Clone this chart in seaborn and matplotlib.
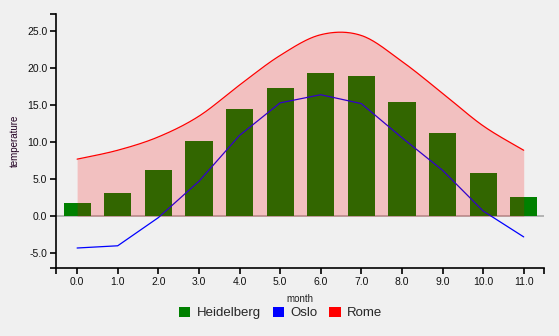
import numpy as np
import pandas as pd
import matplotlib
matplotlib.use("Agg")
import matplotlib.pyplot as plt
import seaborn as sns
from matplotlib.patches import Patch

months = [0, 1, 2, 3, 4, 5, 6, 7, 8, 9, 10, 11]
heidelberg = [1.8, 3.1, 6.2, 10.1, 14.5, 17.3, 19.3, 18.9, 15.4, 11.2, 5.8, 2.6]
oslo = [-4.3, -4.0, -0.2, 4.7, 10.9, 15.3, 16.4, 15.2, 10.6, 6.2, 0.7, -2.8]
rome = [7.7, 8.9, 10.7, 13.5, 17.7, 21.7, 24.5, 24.4, 20.9, 16.6, 12.2, 8.9]
y_ticks = [-5, 0, 5, 10, 15, 20, 25]
series_names = ["Heidelberg", "Oslo", "Rome"]
series_colors = ["#008000", "#0000ff", "#ff0000"]

df = pd.DataFrame({"month": months, "Heidelberg": heidelberg, "Oslo": oslo, "Rome": rome})


def cardinal_curve(x, y, n=30):
    # Catmull-Rom style cardinal spline (tension 0), endpoints duplicated
    x = np.asarray(x, float)
    y = np.asarray(y, float)
    px = np.concatenate([[x[0]], x, [x[-1]]])
    py = np.concatenate([[y[0]], y, [y[-1]]])
    xs, ys = [], []
    for k in range(1, len(px) - 2):
        t = np.linspace(0, 1, n, endpoint=(k == len(px) - 3))
        mx0 = (px[k + 1] - px[k - 1]) / 2
        mx1 = (px[k + 2] - px[k]) / 2
        my0 = (py[k + 1] - py[k - 1]) / 2
        my1 = (py[k + 2] - py[k]) / 2
        h00 = 2 * t**3 - 3 * t**2 + 1
        h10 = t**3 - 2 * t**2 + t
        h01 = -2 * t**3 + 3 * t**2
        h11 = t**3 - t**2
        xs.append(h00 * px[k] + h10 * mx0 + h01 * px[k + 1] + h11 * mx1)
        ys.append(h00 * py[k] + h10 * my0 + h01 * py[k + 1] + h11 * my1)
    return np.concatenate(xs), np.concatenate(ys)


sns.set_style("white")
plt.rcParams["font.family"] = ["Liberation Sans", "DejaVu Sans"]

bg = "#f0f0f0"
fig = plt.figure(figsize=(5.59, 3.36), dpi=100, facecolor=bg)
ax = fig.add_axes([56 / 559, 1 - 268 / 336, (544 - 56) / 559, (268 - 14) / 336])
ax.set_facecolor(bg)

ax.axhline(0, color="#aaaaaa", lw=1.2, zorder=1)

sns.barplot(data=df, x="month", y="Heidelberg", native_scale=True, width=0.67,
            color=series_colors[0], saturation=1, linewidth=0, edgecolor="none",
            ax=ax, zorder=2)
sns.lineplot(data=df, x="month", y="Oslo", color=series_colors[1], lw=0.9, ax=ax, zorder=3)

cx, cy = cardinal_curve(months, rome)
ax.fill_between(cx, 0, cy, color=series_colors[2], alpha=0.2, lw=0, zorder=4)
ax.plot(cx, cy, color=series_colors[2], lw=0.9, zorder=5)

xlim = (-0.52, 11.5)
ylim = (-7.0, 27.3)
ax.set_xlim(*xlim)
ax.set_ylim(*ylim)

ax.set_xticks(months)
ax.set_xticklabels([f"{m:.1f}" for m in months])
ax.set_yticks(y_ticks)
ax.set_yticklabels([f"{v:.1f}" for v in y_ticks])
ax.set_xticks(list(xlim), minor=True)
ax.set_yticks(list(ylim), minor=True)

for sp in ["top", "right"]:
    ax.spines[sp].set_visible(False)
for sp in ["left", "bottom"]:
    ax.spines[sp].set_color("black")
    ax.spines[sp].set_linewidth(1.2)

ax.tick_params(axis="both", which="both", bottom=True, left=True, direction="out",
               length=4.3, width=1.2, color="black", labelsize=7.5,
               labelcolor="#111111", pad=2)
ax.tick_params(axis="both", which="minor", labelbottom=False, labelleft=False)

ax.set_xlabel("month", fontsize=7, color="#222222", labelpad=5)
ax.set_ylabel("temperature", fontsize=7, color="#220022", labelpad=5)

handles = [Patch(facecolor=c, edgecolor="none") for c in series_colors]
fig.legend(handles, series_names, loc="center", bbox_to_anchor=(0.502, 1 - 313 / 336),
           ncol=3, frameon=False, fontsize=9.5, handlelength=0.85, handleheight=0.85,
           handletextpad=0.5, columnspacing=0.9)

fig.savefig("out.png", dpi=100, facecolor=bg)
